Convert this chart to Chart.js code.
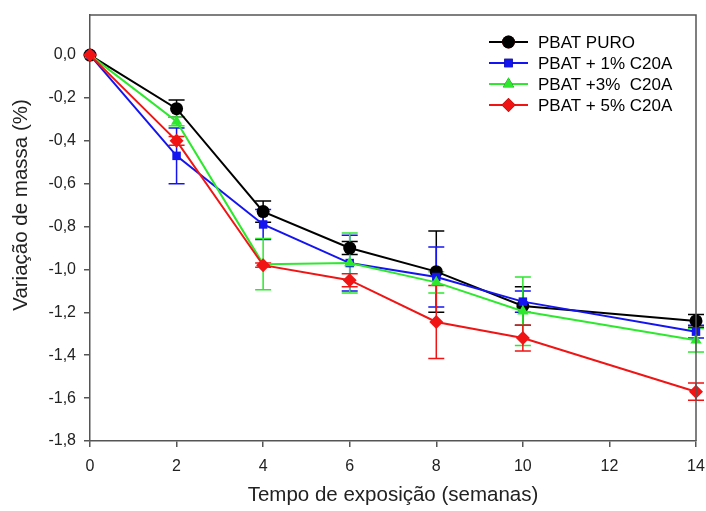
<!DOCTYPE html>
<html>
<head>
<meta charset="utf-8">
<script src="https://cdn.jsdelivr.net/npm/chart.js@4/dist/chart.umd.min.js"></script>
<style>
  html, body { margin: 0; padding: 0; background: #fff; }
  #wrap { width: 706px; height: 511px; }
</style>
</head>
<body>
<div id="wrap"><canvas id="massChart" width="706" height="511"></canvas></div>
<script>
const weeks = [0, 2, 4, 6, 8, 10, 14];
const yTicks = [-1.8, -1.6, -1.4, -1.2, -1.0, -0.8, -0.6, -0.4, -0.2, 0];
const xTicks = [0, 2, 4, 6, 8, 10, 12, 14];

const seriesNames = ["PBAT PURO", "PBAT + 1% C20A", "PBAT +3%  C20A", "PBAT + 5% C20A"];
const puro   = [0, -0.25, -0.73, -0.90, -1.01, -1.17, -1.24];
const c20a1  = [0, -0.47, -0.79, -0.97, -1.035, -1.15, -1.29];
const c20a3  = [0, -0.31, -0.975, -0.97, -1.06, -1.195, -1.33];
const c20a5  = [0, -0.40, -0.98, -1.05, -1.245, -1.32, -1.57];

const errPuro  = [0, 0.04, 0.05, 0.03, 0.19, 0.09, 0.03];
const errC20a1 = [0, 0.13, 0.07, 0.13, 0.14, 0.05, 0.03];
const errC20a3 = [0, 0.02, 0.12, 0.14, 0.05, 0.16, 0.055];
const errC20a5 = [0, 0.02, 0.01, 0.03, 0.17, 0.06, 0.04];

const xTitle = "Tempo de exposição (semanas)";
const yTitle = "Variação de massa (%)";

const colors = ["#000000", "#1414f0", "#2ee82e", "#f01414"];
const markers = ["circle", "rect", "triangle", "rectRot"];
const markerSizes = [6.5, 6, 6.5, 7];

const values = [puro, c20a1, c20a3, c20a5];
const errors = [errPuro, errC20a1, errC20a3, errC20a5];

const fmt = (v) => v.toFixed(1).replace(".", ",");
const font = "'Liberation Sans', Arial, sans-serif";

const datasets = seriesNames.map((name, i) => ({
  label: name,
  data: weeks.map((w, j) => ({ x: w, y: values[i][j] })),
  borderColor: colors[i],
  backgroundColor: colors[i],
  borderWidth: 2,
  pointStyle: markers[i],
  pointRadius: markerSizes[i],
  pointBorderWidth: 0,
  tension: 0,
  clip: false,
  order: 4 - i
}));

// error bars, frame and axis titles
const errorBars = {
  id: "errorBars",
  beforeDatasetsDraw(chart) {
    const { ctx, scales: { x, y } } = chart;
    ctx.save();
    ctx.lineWidth = 1.5;
    values.forEach((vals, i) => {
      ctx.strokeStyle = colors[i];
      vals.forEach((v, j) => {
        const e = errors[i][j];
        if (!e) return;
        const px = x.getPixelForValue(weeks[j]);
        const top = y.getPixelForValue(v + e);
        const bot = y.getPixelForValue(v - e);
        ctx.beginPath();
        ctx.moveTo(px, top); ctx.lineTo(px, bot);
        ctx.moveTo(px - 8, top); ctx.lineTo(px + 8, top);
        ctx.moveTo(px - 8, bot); ctx.lineTo(px + 8, bot);
        ctx.stroke();
      });
    });
    ctx.restore();
  },
  afterDraw(chart) {
    const { ctx, chartArea: a } = chart;
    ctx.save();
    ctx.strokeStyle = "#555";
    ctx.lineWidth = 1.5;
    ctx.beginPath();
    ctx.moveTo(a.left, a.top); ctx.lineTo(a.right, a.top); ctx.lineTo(a.right, a.bottom);
    ctx.stroke();

    ctx.fillStyle = "#222";
    ctx.font = "20.5px " + font;
    ctx.textAlign = "center";
    ctx.textBaseline = "middle";
    ctx.fillText(xTitle, (a.left + a.right) / 2, 495);
    ctx.translate(21, 205);
    ctx.rotate(-Math.PI / 2);
    ctx.fillText(yTitle, 0, 0);
    ctx.restore();
  }
};

// legend drawn inside plot, top right
const insideLegend = {
  id: "insideLegend",
  afterDraw(chart) {
    const { ctx } = chart;
    ctx.save();
    ctx.font = "17px " + font;
    ctx.textBaseline = "middle";
    seriesNames.forEach((name, i) => {
      const yy = 42 + i * 21;
      ctx.strokeStyle = colors[i];
      ctx.lineWidth = 2;
      ctx.beginPath(); ctx.moveTo(489, yy); ctx.lineTo(528, yy); ctx.stroke();
      Chart.helpers.drawPoint(ctx, { pointStyle: markers[i], radius: markerSizes[i], borderWidth: 0 }, 508.5, yy);
      ctx.fillStyle = colors[i];
      ctx.fill();
      ctx.fillStyle = "#000";
      ctx.fillText(name, 538, yy + 1);
    });
    ctx.restore();
  }
};

new Chart(document.getElementById("massChart").getContext("2d"), {
  type: "line",
  data: { datasets },
  options: {
    responsive: false,
    animation: false,
    layout: { padding: { top: 15, right: 10, left: 0, bottom: 0 } },
    plugins: { legend: { display: false }, tooltip: { enabled: false } },
    scales: {
      x: {
        type: "linear",
        min: 0, max: 14,
        afterBuildTicks: (s) => { s.ticks = xTicks.map((v) => ({ value: v })); },
        afterFit: (s) => { s.height = 70; s.paddingLeft = 0; s.paddingRight = 0; },
        ticks: { color: "#222", font: { family: font, size: 16 }, padding: 10, maxRotation: 0 },
        grid: { drawOnChartArea: false, drawTicks: true, tickLength: 6, color: "#555", lineWidth: 1.5 },
        border: { display: true, color: "#555", width: 1.5 }
      },
      y: {
        min: -1.8, max: 0.187,
        afterBuildTicks: (s) => { s.ticks = yTicks.map((v) => ({ value: v })); },
        afterFit: (s) => { s.width = 90; s.paddingTop = 0; s.paddingBottom = 0; },
        ticks: { color: "#222", font: { family: font, size: 16 }, padding: 8, callback: (v) => fmt(v) },
        grid: { drawOnChartArea: false, drawTicks: true, tickLength: 6, color: "#555", lineWidth: 1.5 },
        border: { display: true, color: "#555", width: 1.5 }
      }
    }
  },
  plugins: [errorBars, insideLegend]
});
</script>
</body>
</html>
